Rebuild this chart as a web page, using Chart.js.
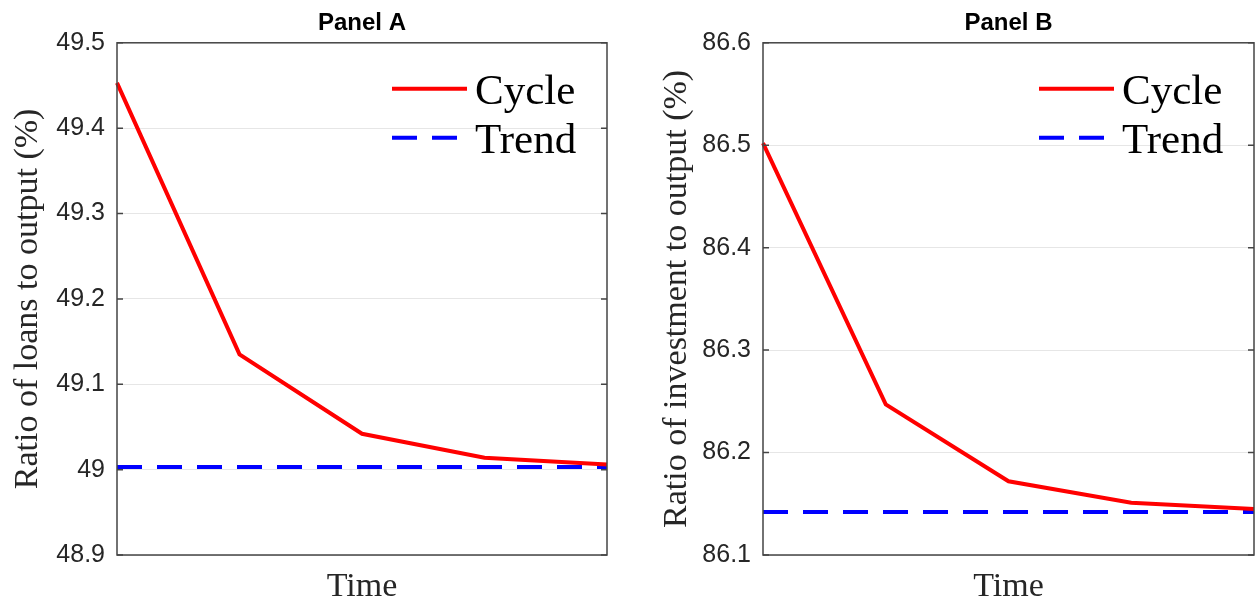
<!DOCTYPE html>
<html>
<head>
<meta charset="utf-8">
<script src="https://cdn.jsdelivr.net/npm/chart.js@4"></script>
<style>
  body { margin: 0; background: #fff; }
  .wrap { position: absolute; top: 0; width: 628px; height: 608px; }
</style>
</head>
<body>
<div class="wrap" style="left:0"><canvas id="panelA" width="628" height="608"></canvas></div>
<div class="wrap" style="left:628px"><canvas id="panelB" width="628" height="608"></canvas></div>
<script>
var timeLabels = ["1", "2", "3", "4", "5"];

var loansCycle = [49.453, 49.135, 49.042, 49.014, 49.006];
var loansTrend = [49.003, 49.003, 49.003, 49.003, 49.003];
var loansRange = [48.9, 49.5];

var investCycle = [86.502, 86.247, 86.172, 86.151, 86.145];
var investTrend = [86.142, 86.142, 86.142, 86.142, 86.142];
var investRange = [86.1, 86.6];

var tickStep = 0.1;

// frame, inner tick marks and the legend inside the plot box
var boxAndLegend = {
    id: "boxAndLegend",
    afterDatasetsDraw: function (chart) {
        var ctx = chart.ctx, a = chart.chartArea, y = chart.scales.y;
        ctx.save();
        ctx.strokeStyle = "#444";
        ctx.lineWidth = 1.5;
        ctx.strokeRect(a.left, a.top, a.right - a.left, a.bottom - a.top);
        y.ticks.forEach(function (t) {
            var py = y.getPixelForValue(t.value);
            ctx.beginPath();
            ctx.moveTo(a.left, py); ctx.lineTo(a.left + 6, py);
            ctx.moveTo(a.right, py); ctx.lineTo(a.right - 6, py);
            ctx.stroke();
        });

        chart.data.datasets.forEach(function (ds, i) {
            var ly = a.top + 46 + i * 49;
            ctx.beginPath();
            ctx.setLineDash(ds.borderDash || []);
            ctx.strokeStyle = ds.borderColor;
            ctx.lineWidth = ds.borderWidth;
            ctx.moveTo(a.right - 215, ly);
            ctx.lineTo(a.right - 140, ly);
            ctx.stroke();
            ctx.setLineDash([]);
            ctx.fillStyle = "#000";
            ctx.font = '43px "Liberation Serif"';
            ctx.textBaseline = "alphabetic";
            ctx.fillText(ds.label, a.right - 132, ly + 15);
        });
        ctx.restore();
    }
};

function makePanel(id, title, yTitle, cycle, trend, range, padLeft, axisWidth, padRight) {
    return new Chart(id, {
        type: "line",
        data: {
            labels: timeLabels,
            datasets: [{
                label: "Cycle",
                data: cycle,
                borderColor: "#ff0000",
                borderWidth: 4,
                pointRadius: 0,
                tension: 0
            }, {
                label: "Trend",
                data: trend,
                borderColor: "#0000ff",
                borderWidth: 4,
                borderDash: [25, 15],
                pointRadius: 0,
                tension: 0
            }]
        },
        options: {
            responsive: false,
            animation: false,
            devicePixelRatio: 1,
            layout: {
                padding: { left: padLeft, right: padRight, top: 0, bottom: 0 }
            },
            plugins: {
                legend: { display: false },
                tooltip: { enabled: false },
                title: {
                    display: true,
                    text: title,
                    fullSize: false,
                    color: "#000",
                    font: { family: '"Liberation Sans"', size: 24, weight: "bold" },
                    padding: { top: 9, bottom: 5 }
                }
            },
            scales: {
                x: {
                    offset: false,
                    grid: { display: false },
                    border: { display: false },
                    ticks: { display: false },
                    title: {
                        display: true,
                        text: "Time",
                        color: "#262626",
                        font: { family: '"Liberation Serif"', size: 34 },
                        padding: { top: 4, bottom: 1 }
                    },
                    afterFit: function (s) { s.height = 53; }
                },
                y: {
                    min: range[0],
                    max: range[1],
                    ticks: {
                        stepSize: tickStep,
                        color: "#262626",
                        font: { family: '"Liberation Sans"', size: 25 },
                        padding: 12,
                        callback: function (v) { return String(+v.toFixed(1)); }
                    },
                    grid: { color: "#e6e6e6", drawTicks: false },
                    border: { display: false },
                    title: {
                        display: true,
                        text: yTitle,
                        color: "#262626",
                        font: { family: '"Liberation Serif"', size: 34 },
                        padding: { top: 4, bottom: 4 }
                    },
                    afterFit: function (s) { s.width = axisWidth; }
                }
            }
        },
        plugins: [boxAndLegend]
    });
}

makePanel("panelA", "Panel A", "Ratio of loans to output (%)", loansCycle, loansTrend, loansRange, 4, 113, 21);
makePanel("panelB", "Panel B", "Ratio of investment to output (%)", investCycle, investTrend, investRange, 25, 110, 2);
</script>
</body>
</html>
